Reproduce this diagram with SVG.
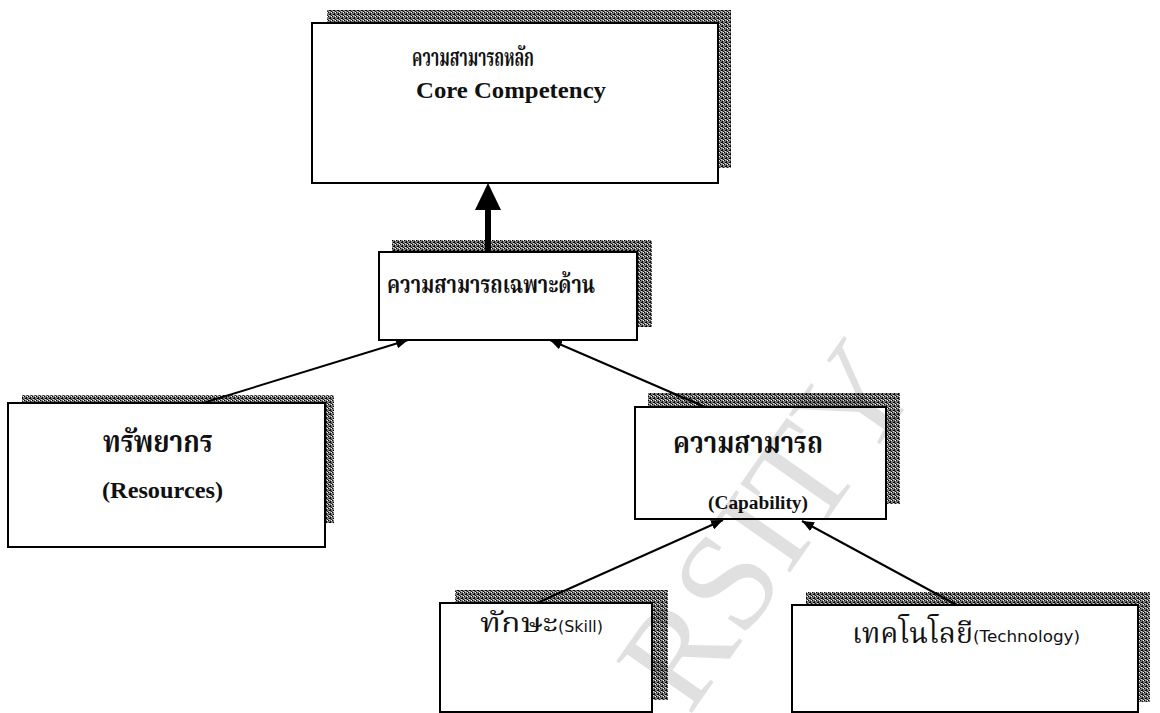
<svg xmlns="http://www.w3.org/2000/svg" width="1160" height="713" viewBox="0 0 1160 713">
<style>
.box{fill:#fff;stroke:#000;stroke-width:2}
.sh{fill:url(#ht);stroke:none}
.th{font-family:"Noto Serif Thai","Noto Sans Thai","Liberation Serif","DejaVu Serif",serif;fill:#111}
.thb{font-family:"Noto Serif Thai","Noto Sans Thai","Liberation Serif","DejaVu Serif",serif;font-weight:bold;fill:#111}
.en{font-family:"Liberation Serif",serif;font-weight:bold;fill:#111}
.sans{font-family:"DejaVu Sans","Liberation Sans",sans-serif;fill:#111}
.con{stroke:#000;stroke-width:2;fill:none;marker-end:url(#ah)}
.wm{font-family:"Liberation Serif",serif;fill:#000;fill-opacity:0.12}
</style>
<defs>
<pattern id="ht" width="4" height="4" patternUnits="userSpaceOnUse">
<rect width="4" height="4" fill="#7a7a7a"/>
<rect x="0" y="0" width="1" height="1" fill="#000"/>
<rect x="2" y="1" width="1" height="1" fill="#111"/>
<rect x="1" y="2" width="1" height="1" fill="#000"/>
<rect x="3" y="3" width="1" height="1" fill="#222"/>
<rect x="2" y="2" width="1" height="1" fill="#000"/>
<rect x="3" y="0" width="1" height="1" fill="#fff"/>
<rect x="1" y="3" width="1" height="1" fill="#ddd"/>
</pattern>
<marker id="ah" viewBox="0 0 12 10" refX="12" refY="5" markerWidth="12" markerHeight="10" markerUnits="userSpaceOnUse" orient="auto">
<path d="M0,0 L12,5 L0,10 Z" fill="#000"/>
</marker>
</defs>
<rect width="1160" height="713" fill="#fff"/>

<g id="core">
<rect class="sh" x="327" y="10" width="404" height="158"/>
<rect class="box" x="312" y="23" width="406" height="160"/>
<text class="thb" x="412" y="66" font-size="25" textLength="122" lengthAdjust="spacingAndGlyphs">ความสามารถหลัก</text>
<text class="en" x="416" y="98" font-size="23" textLength="190" lengthAdjust="spacingAndGlyphs">Core Competency</text>
</g>
<g id="specific">
<rect class="sh" x="392" y="240" width="260" height="87"/>
<rect class="box" x="379" y="252" width="258" height="88"/>
<text class="thb" x="387" y="293" font-size="25" textLength="208" lengthAdjust="spacingAndGlyphs">ความสามารถเฉพาะด้าน</text>
</g>
<g id="resources">
<rect class="sh" x="22" y="395" width="312" height="128"/>
<rect class="box" x="8" y="403" width="317" height="144"/>
<text class="thb" x="103" y="452" font-size="30" textLength="110" lengthAdjust="spacingAndGlyphs">ทรัพยากร</text>
<text class="en" x="102" y="498" font-size="24" textLength="121" lengthAdjust="spacingAndGlyphs">(Resources)</text>
</g>
<g id="capability">
<rect class="sh" x="648" y="393" width="252" height="111"/>
<rect class="box" x="635" y="407" width="251" height="112"/>
<text class="thb" x="673" y="453" font-size="31" textLength="150" lengthAdjust="spacingAndGlyphs">ความสามารถ</text>
<text class="en" x="708" y="509" font-size="18" textLength="100" lengthAdjust="spacingAndGlyphs">(Capability)</text>
</g>
<g id="skill">
<rect class="sh" x="455" y="590" width="213" height="110"/>
<rect class="box" x="440" y="603" width="212" height="109"/>
<text x="480" y="632"><tspan class="th" font-size="26" textLength="78" lengthAdjust="spacingAndGlyphs">ทักษะ</tspan><tspan class="sans" x="558" font-size="15" textLength="45" lengthAdjust="spacingAndGlyphs">(Skill)</tspan></text>
</g>
<g id="technology">
<rect class="sh" x="806" y="592" width="344" height="110"/>
<rect class="box" x="792" y="605" width="346" height="107"/>
<text x="852" y="643"><tspan class="th" font-size="28" textLength="121" lengthAdjust="spacingAndGlyphs">เทคโนโลยี</tspan><tspan class="sans" x="973" y="642" font-size="15" textLength="107" lengthAdjust="spacingAndGlyphs">(Technology)</tspan></text>
</g>

<g id="connectors">
<line x1="488" y1="252" x2="488" y2="208" stroke="#000" stroke-width="6"/>
<path d="M475,210 L501,210 L488,183 Z" fill="#000"/>
<line class="con" x1="203" y1="403" x2="408" y2="340"/>
<line class="con" x1="705" y1="407" x2="550" y2="340"/>
<line class="con" x1="537" y1="603" x2="723" y2="520"/>
<line class="con" x1="957" y1="605" x2="802" y2="521"/>
</g>

<text class="wm" x="689" y="717" font-size="140" transform="rotate(-55 689 717)">RSITY</text>
</svg>
